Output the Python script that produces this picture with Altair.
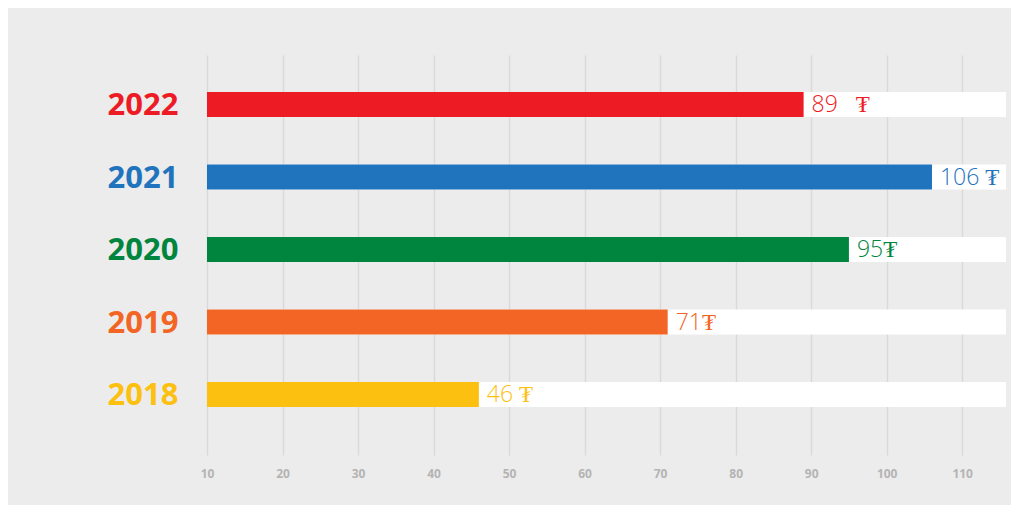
import altair as alt
import pandas as pd

years = ["2022", "2021", "2020", "2019", "2018"]
values = [89, 106, 95, 71, 46]
value_labels = ["89\u00a0\u00a0\u00a0₮", "106\u00a0₮", "95₮", "71₮", "46\u00a0₮"]
colors = ["#ed1c24", "#1f74bd", "#00853e", "#f26524", "#fcc011"]
tick_values = [10, 20, 30, 40, 50, 60, 70, 80, 90, 100, 110]
axis_min = 10
axis_max = 115.8

df = pd.DataFrame({
    "year": years,
    "value": values,
    "label": value_labels,
    "start": [axis_min] * len(years),
    "end": [axis_max] * len(years),
})

label_color = {
    "condition": [
        {"test": f"datum.value == '{y}'", "value": c} for y, c in zip(years, colors)
    ],
    "value": "#333333",
}

x_scale = alt.Scale(domain=[axis_min, axis_max], zero=False, nice=False)
y_scale = alt.Scale(domain=years, paddingInner=0, paddingOuter=0.2586, align=0.353)
color_scale = alt.Scale(domain=years, range=colors)

base = alt.Chart(df)

bg_bars = base.mark_bar(color="#ffffff", size=25).encode(
    x=alt.X("start:Q", scale=x_scale,
            axis=alt.Axis(values=tick_values, title=None, domain=False, ticks=False,
                          grid=True, gridColor="#d9d9d9", gridWidth=1.5,
                          labelColor="#b4b4b4", labelFont="Open Sans",
                          labelFontWeight="bold", labelFontSize=12, labelPadding=13,
                          labelFlush=False)),
    x2="end:Q",
    y=alt.Y("year:N", scale=y_scale, sort=years,
            axis=alt.Axis(title=None, domain=False, ticks=False, grid=False,
                          labelAlign="left", labelPadding=100, labelOffset=2,
                          labelFont="Open Sans", labelFontWeight=700,
                          labelFontSize=31, labelColor=label_color)),
)

bars = base.mark_bar(size=25).encode(
    x=alt.X("start:Q", scale=x_scale),
    x2="value:Q",
    y=alt.Y("year:N", scale=y_scale, sort=years),
    color=alt.Color("year:N", scale=color_scale, legend=None),
)

texts = base.mark_text(align="left", baseline="middle", dx=8, dy=1,
                       font="Open Sans", fontWeight=300, fontSize=23).encode(
    x=alt.X("value:Q", scale=x_scale),
    y=alt.Y("year:N", scale=y_scale, sort=years),
    text="label:N",
    color=alt.Color("year:N", scale=color_scale, legend=None),
)

chart = alt.layer(bg_bars, bars, texts).properties(
    width=799, height=400,
    background="#ececec",
    padding={"left": 199, "top": 47, "right": 5, "bottom": 50},
    autosize=alt.AutoSizeParams(type="none"),
).configure_view(stroke=None)

chart.save("out.html", embed_options={"renderer": "svg", "actions": False})
